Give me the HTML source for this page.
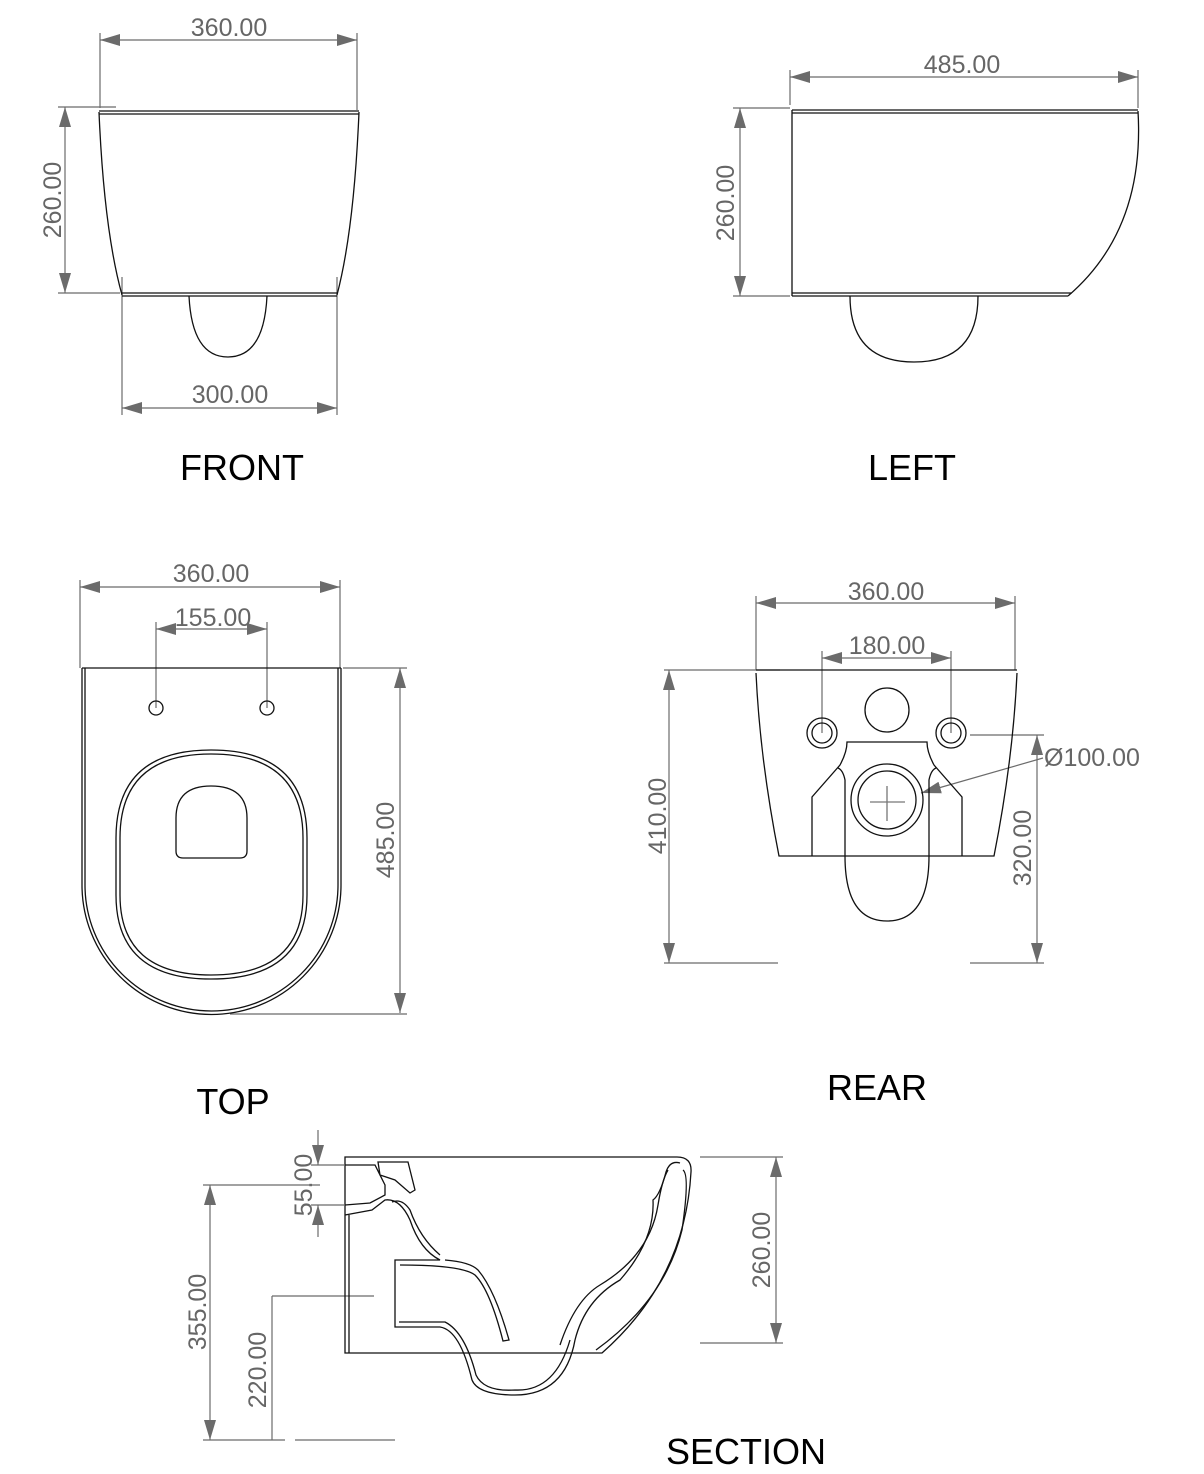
<!DOCTYPE html>
<html><head><meta charset="utf-8"><style>
html,body{margin:0;padding:0;background:#fff}
svg{display:block}
.d{stroke:#6b6b6b;stroke-width:1.2;fill:none}
.o{stroke:#111;stroke-width:1.3;fill:none}
.t{font-family:"Liberation Sans",sans-serif;font-size:25px;fill:#666;text-anchor:middle}
.L{font-family:"Liberation Sans",sans-serif;font-size:36px;fill:#000;text-anchor:middle}
</style></head><body>
<svg width="1204" height="1474" viewBox="0 0 1204 1474" xmlns="http://www.w3.org/2000/svg">
<defs>
<marker id="a" viewBox="0 0 20 12" refX="20" refY="6" markerWidth="20" markerHeight="12" markerUnits="userSpaceOnUse" orient="auto-start-reverse"><path d="M0,0L20,6L0,12z" fill="#6b6b6b"/></marker>
</defs>

<!-- FRONT -->
<line class="d" x1="100" y1="40" x2="357" y2="40" marker-start="url(#a)" marker-end="url(#a)"/>
<line class="d" x1="100" y1="33" x2="100" y2="108"/><line class="d" x1="357" y1="33" x2="357" y2="110"/>
<text class="t" x="229" y="36">360.00</text>
<line class="d" x1="65" y1="107" x2="65" y2="293" marker-start="url(#a)" marker-end="url(#a)"/>
<line class="d" x1="58" y1="107" x2="116" y2="107"/><line class="d" x1="58" y1="293" x2="120" y2="293"/>
<text class="t" transform="translate(61,200) rotate(-90)">260.00</text>
<line class="d" x1="122" y1="408" x2="337" y2="408" marker-start="url(#a)" marker-end="url(#a)"/>
<line class="d" x1="122" y1="277" x2="122" y2="415"/><line class="d" x1="337" y1="277" x2="337" y2="415"/>
<text class="t" x="230" y="403">300.00</text>
<path class="o" d="M99,111 L359,111 M99,114 L359,114 M99,112 Q104,230 122,295 M359,112 Q354,230 337,295 M122,293 L337,293 M122,296 L337,296"/>
<path class="o" d="M189,296 Q192,357 228,357 Q264,357 267,296"/>
<text class="L" x="242" y="480">FRONT</text>

<!-- LEFT -->
<line class="d" x1="790" y1="77" x2="1138" y2="77" marker-start="url(#a)" marker-end="url(#a)"/>
<line class="d" x1="790" y1="70" x2="790" y2="105"/><line class="d" x1="1138" y1="70" x2="1138" y2="108"/>
<text class="t" x="962" y="73">485.00</text>
<line class="d" x1="740" y1="108" x2="740" y2="296" marker-start="url(#a)" marker-end="url(#a)"/>
<line class="d" x1="733" y1="108" x2="790" y2="108"/><line class="d" x1="733" y1="296" x2="790" y2="296"/>
<text class="t" transform="translate(734,203) rotate(-90)">260.00</text>
<path class="o" d="M792,110 L1138,110 M792,113 L1138,113 M792,110 L792,296 M1138,111 Q1145,230 1068,296 M792,293 L1072,293 M792,296 L1068,296"/>
<path class="o" d="M850,296 Q850,362 914,362 Q978,362 978,296"/>
<text class="L" x="912" y="480">LEFT</text>

<!-- TOP -->
<line class="d" x1="80" y1="587" x2="340" y2="587" marker-start="url(#a)" marker-end="url(#a)"/>
<line class="d" x1="80" y1="580" x2="80" y2="668"/><line class="d" x1="340" y1="580" x2="340" y2="668"/>
<text class="t" x="211" y="582">360.00</text>
<line class="d" x1="156" y1="629" x2="267" y2="629" marker-start="url(#a)" marker-end="url(#a)"/>
<line class="d" x1="156" y1="622" x2="156" y2="708"/><line class="d" x1="267" y1="622" x2="267" y2="708"/>
<text class="t" x="213" y="626">155.00</text>
<line class="d" x1="400" y1="668" x2="400" y2="1013" marker-start="url(#a)" marker-end="url(#a)"/>
<line class="d" x1="343" y1="668" x2="407" y2="668"/><line class="d" x1="230" y1="1014" x2="407" y2="1014"/>
<text class="t" transform="translate(394,840) rotate(-90)">485.00</text>
<path class="o" d="M82,668 L341,668 M82,668 L82,885 A129.5,129.5 0 0 0 341,885 L341,668 M85,668 L85,885 A126.5,126 0 0 0 338,885 L338,668"/>
<circle class="o" cx="156" cy="708" r="7"/><circle class="o" cx="267" cy="708" r="7"/>
<path class="o" d="M116,838 Q116,750 211,750 Q307,750 307,838 L307,895 Q307,979 211,979 Q116,979 116,895 Z"/>
<path class="o" d="M120,838 Q120,754 211,754 Q303,754 303,838 L303,895 Q303,975 211,975 Q120,975 120,895 Z"/>
<path class="o" d="M176,818 Q176,786 211,786 Q247,786 247,818 L247,851 Q247,858 240,858 L183,858 Q176,858 176,851 Z"/>
<text class="L" x="233" y="1114">TOP</text>

<!-- REAR -->
<line class="d" x1="756" y1="603" x2="1015" y2="603" marker-start="url(#a)" marker-end="url(#a)"/>
<line class="d" x1="756" y1="596" x2="756" y2="670"/><line class="d" x1="1015" y1="596" x2="1015" y2="670"/>
<text class="t" x="886" y="600">360.00</text>
<line class="d" x1="822" y1="658" x2="951" y2="658" marker-start="url(#a)" marker-end="url(#a)"/>
<line class="d" x1="822" y1="651" x2="822" y2="733"/><line class="d" x1="951" y1="651" x2="951" y2="733"/>
<text class="t" x="887" y="654">180.00</text>
<line class="d" x1="669" y1="670" x2="669" y2="963" marker-start="url(#a)" marker-end="url(#a)"/>
<line class="d" x1="664" y1="670" x2="780" y2="670"/><line class="d" x1="664" y1="963" x2="778" y2="963"/>
<text class="t" transform="translate(666,816) rotate(-90)">410.00</text>
<line class="d" x1="1037" y1="735" x2="1037" y2="963" marker-start="url(#a)" marker-end="url(#a)"/>
<line class="d" x1="970" y1="735" x2="1044" y2="735"/><line class="d" x1="970" y1="963" x2="1044" y2="963"/>
<text class="t" transform="translate(1031,848) rotate(-90)">320.00</text>
<line class="d" x1="1043" y1="758" x2="921" y2="793" marker-end="url(#a)"/>
<text class="t" x="1092" y="766">Ø100.00</text>
<path class="o" d="M756,670 L1017,670 M756,673 Q760,760 779,856 L994,856 Q1013,760 1017,673"/>
<circle class="o" cx="887" cy="710" r="22"/>
<circle class="o" cx="822" cy="733" r="15"/><circle class="o" cx="822" cy="733" r="10"/>
<circle class="o" cx="951" cy="733" r="15"/><circle class="o" cx="951" cy="733" r="10"/>
<path class="o" d="M812,856 L812,797 L840,765 Q847,752 847,742 L927,742 Q927,752 934,765 L962,797 L962,856"/>
<path class="o" d="M845,856 L845,780 Q843,770 838,768 M929,856 L929,780 Q931,770 936,768"/>
<circle class="o" cx="887" cy="800" r="36"/><circle class="o" cx="887" cy="800" r="29"/>
<path class="o" d="M887,786 L887,821 M870,802 L905,802" style="stroke:#777"/>
<path class="o" d="M845,856 Q845,921 887,921 Q929,921 929,856"/>
<text class="L" x="877" y="1100">REAR</text>

<!-- SECTION -->
<line class="d" x1="318" y1="1130" x2="318" y2="1165" marker-end="url(#a)"/>
<line class="d" x1="318" y1="1237" x2="318" y2="1205" marker-end="url(#a)"/>
<line class="d" x1="311" y1="1165" x2="344" y2="1165"/><line class="d" x1="311" y1="1205" x2="344" y2="1205"/>
<text class="t" transform="translate(312,1185) rotate(-90)">55.00</text>
<line class="d" x1="210" y1="1185" x2="210" y2="1440" marker-start="url(#a)" marker-end="url(#a)"/>
<line class="d" x1="203" y1="1185" x2="320" y2="1185"/><line class="d" x1="203" y1="1440" x2="285" y2="1440"/><line class="d" x1="295" y1="1440" x2="395" y2="1440"/>
<text class="t" transform="translate(206,1312) rotate(-90)">355.00</text>
<line class="d" x1="272" y1="1296" x2="272" y2="1440"/><line class="d" x1="272" y1="1296" x2="374" y2="1296"/>
<text class="t" transform="translate(266,1370) rotate(-90)">220.00</text>
<line class="d" x1="776" y1="1157" x2="776" y2="1343" marker-start="url(#a)" marker-end="url(#a)"/>
<line class="d" x1="700" y1="1157" x2="783" y2="1157"/><line class="d" x1="700" y1="1343" x2="783" y2="1343"/>
<text class="t" transform="translate(770,1250) rotate(-90)">260.00</text>
<path class="o" d="M345,1157 L677,1157 Q692,1157 691,1172 Q685,1280 602,1353 L345,1353 Z M349,1215 L349,1353"/>
<path class="o" d="M680,1163 Q670,1160 666,1172 Q660,1195 653,1200 Q655,1240 620,1280 Q585,1300 575,1340 Q565,1395 515,1395 Q478,1395 472,1380 Q460,1330 440,1327 L395,1327 L395,1260 L440,1260 Q420,1250 410,1220 Q400,1198 385,1200 L372,1210 L345,1215"/>
<path class="o" d="M683,1170 Q690,1175 682,1230 Q665,1300 596,1350 M560,1345 Q575,1300 600,1285 Q650,1255 658,1205 Q662,1180 668,1170"/>
<path class="o" d="M570,1340 Q555,1392 515,1390 Q484,1392 476,1375 Q465,1332 445,1322 L399,1322 M445,1260 Q470,1262 478,1270 Q495,1290 509,1340 L503,1341 Q490,1290 475,1275 Q462,1265 400,1265"/>
<path class="o" d="M345,1165 L375,1165 L385,1185 L385,1195 L370,1203 L345,1205 M378,1162 L408,1162 L415,1190 L410,1193 L395,1180 L380,1175 Z M440,1255 Q420,1238 410,1210 Q402,1198 392,1202"/>
<text class="L" x="746" y="1464">SECTION</text>
</svg>
</body></html>
